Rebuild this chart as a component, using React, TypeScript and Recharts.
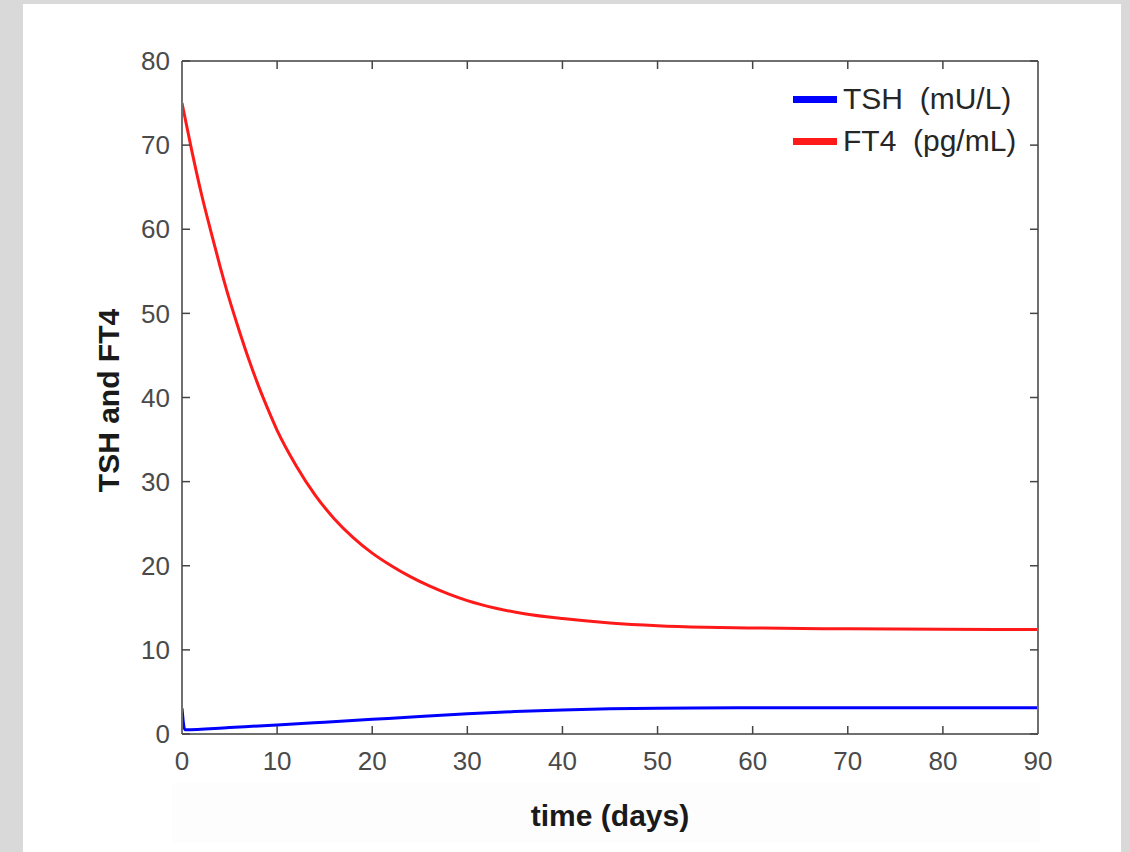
import React from 'react';
import { LineChart, Line, XAxis, YAxis, Legend, Label } from 'recharts';

const xTicks = [0, 10, 20, 30, 40, 50, 60, 70, 80, 90];
const yTicks = [0, 10, 20, 30, 40, 50, 60, 70, 80];

const tshDays = [0, 0.3, 5, 10, 15, 20, 25, 30, 35, 40, 45, 50, 60, 70, 80, 90];
const tshValues = [3.05, 0.5, 0.78, 1.07, 1.4, 1.74, 2.08, 2.4, 2.66, 2.86, 3.0, 3.07, 3.12, 3.13, 3.13, 3.13];

const ft4Days = [0, 1, 2, 3, 4, 5, 6, 7, 8, 9, 10, 12, 14, 16, 18, 20, 22, 24, 26, 28, 30, 33, 36, 40, 45, 50, 55, 60, 70, 80, 90];
const ft4Values = [75, 69.5, 64.4, 59.9, 55.6, 51.6, 48.0, 44.6, 41.5, 38.7, 36.1, 31.9, 28.4, 25.6, 23.35, 21.5, 20.0, 18.7, 17.6, 16.65, 15.85, 14.95, 14.3, 13.72, 13.2, 12.88, 12.7, 12.6, 12.5, 12.45, 12.42];

const seriesNames = ['TSH  (mU/L)', 'FT4  (pg/mL)'];

const tshData = tshDays.map((t, i) => ({ t, v: tshValues[i] }));
const ft4Data = ft4Days.map((t, i) => ({ t, v: ft4Values[i] }));

const FONT = '"Liberation Sans", Arial, Helvetica, sans-serif';
const FRAME = '#6f6f6f';
const TICKLINE = '#454545';

const renderLegend = (props: any) => {
  const payload = [...(props.payload || [])].sort(
    (a: any, b: any) => seriesNames.indexOf(a.value) - seriesNames.indexOf(b.value)
  );
  return (
    <div>
      {payload.map((p: any) => (
        <div key={p.value} style={{ display: 'flex', alignItems: 'center', height: 42 }}>
          <div style={{ width: 44, height: 7, background: p.color }} />
          <span
            style={{
              marginLeft: 6,
              fontSize: 30,
              fontFamily: FONT,
              color: '#262626',
              whiteSpace: 'pre',
              lineHeight: '42px',
            }}
          >
            {p.value}
          </span>
        </div>
      ))}
    </div>
  );
};

const YTitle = (p: any) => {
  const vb = p.viewBox || { x: 181, y: 61, width: 1, height: 673 };
  const x = vb.x - 73;
  const y = vb.y + vb.height / 2 + 3;
  return (
    <text
      x={x}
      y={y}
      transform={`rotate(-90, ${x}, ${y})`}
      textAnchor="middle"
      dominantBaseline="central"
      fontFamily={FONT}
      fontWeight="bold"
      fontSize={30}
      fill="#1a1a1a"
    >
      TSH and FT4
    </text>
  );
};

const XTitle = (p: any) => {
  const vb = p.viewBox || { x: 182, y: 734, width: 856, height: 1 };
  const x = vb.x + vb.width / 2;
  const y = vb.y + 81;
  return (
    <text
      x={x}
      y={y}
      textAnchor="middle"
      dominantBaseline="central"
      fontFamily={FONT}
      fontWeight="bold"
      fontSize={30}
      fill="#1a1a1a"
    >
      time (days)
    </text>
  );
};

export default function App() {
  const tickStyle = { fontSize: 26, fill: '#4a4a4a', fontFamily: FONT };
  return (
    <div
      style={{
        position: 'absolute',
        left: 0,
        top: 0,
        width: 1130,
        height: 852,
        background: '#d9d9d9',
        overflow: 'hidden',
      }}
    >
      <div style={{ position: 'absolute', left: 23, top: 4, width: 1098, height: 848, background: '#ffffff' }} />
      <div style={{ position: 'absolute', left: 172, top: 783, width: 868, height: 60, background: '#fdfdfd' }} />
      <div style={{ position: 'absolute', left: 0, top: 0 }}>
        <LineChart width={1130} height={852} margin={{ top: 60, right: 91, bottom: 117, left: 181 }}>
          <XAxis
            xAxisId="bottom"
            dataKey="t"
            type="number"
            domain={[0, 90]}
            ticks={xTicks}
            allowDataOverflow
            height={1}
            tickSize={-8}
            tickMargin={26}
            tick={tickStyle}
            axisLine={{ stroke: FRAME, strokeWidth: 2 }}
            tickLine={{ stroke: TICKLINE, strokeWidth: 1.5 }}
          >
            <Label content={XTitle} />
          </XAxis>
          <XAxis
            xAxisId="top"
            orientation="top"
            dataKey="t"
            type="number"
            domain={[0, 90]}
            ticks={xTicks}
            allowDataOverflow
            height={1}
            tickSize={-8}
            tickFormatter={() => ''}
            axisLine={{ stroke: FRAME, strokeWidth: 2 }}
            tickLine={{ stroke: TICKLINE, strokeWidth: 1.5 }}
          />
          <YAxis
            yAxisId="left"
            type="number"
            domain={[0, 80]}
            ticks={yTicks}
            allowDataOverflow
            width={1}
            tickSize={-8}
            tickMargin={20}
            tick={tickStyle}
            axisLine={{ stroke: FRAME, strokeWidth: 2 }}
            tickLine={{ stroke: TICKLINE, strokeWidth: 1.5 }}
          >
            <Label content={YTitle} />
          </YAxis>
          <YAxis
            yAxisId="right"
            orientation="right"
            type="number"
            domain={[0, 80]}
            ticks={yTicks}
            allowDataOverflow
            width={1}
            tickSize={-8}
            tickFormatter={() => ''}
            axisLine={{ stroke: FRAME, strokeWidth: 2 }}
            tickLine={{ stroke: TICKLINE, strokeWidth: 1.5 }}
          />
          <Legend
            layout="vertical"
            align="center"
            verticalAlign="middle"
            content={renderLegend}
            wrapperStyle={{ left: 793, top: 78, width: 'auto' }}
          />
          <Line
            xAxisId="bottom"
            yAxisId="left"
            data={tshData}
            dataKey="v"
            name={seriesNames[0]}
            type="monotone"
            stroke="#0000ff"
            strokeWidth={3}
            dot={false}
            activeDot={false}
            isAnimationActive={false}
          />
          <Line
            xAxisId="bottom"
            yAxisId="left"
            data={ft4Data}
            dataKey="v"
            name={seriesNames[1]}
            type="monotone"
            stroke="#ff1a1a"
            strokeWidth={3}
            dot={false}
            activeDot={false}
            isAnimationActive={false}
          />
        </LineChart>
      </div>
    </div>
  );
}
